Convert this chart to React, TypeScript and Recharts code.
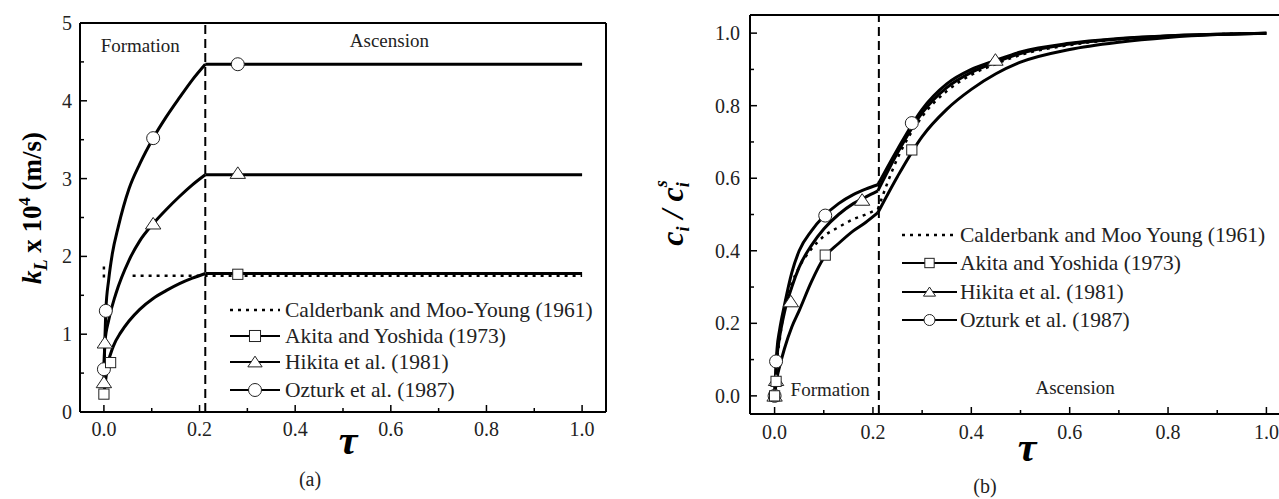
import React from 'react';
import { LineChart, Line, XAxis, YAxis, ReferenceLine, ReferenceDot, Legend } from 'recharts';

const FONT = '"Liberation Serif", "Times New Roman", serif';
const INK = '#000';

// ---- panel (a): k_L x 10^4 (m/s) against tau ----
const aTicksX = [0, 0.1, 0.2, 0.3, 0.4, 0.5, 0.6, 0.7, 0.8, 0.9, 1.0];
const aTicksY = [0, 0.5, 1, 1.5, 2, 2.5, 3, 3.5, 4, 4.5, 5];
const aSwitchTau = 0.212;

const aTauOzturk = [0, 0.004, 0.01, 0.0175, 0.03, 0.0525, 0.075, 0.103, 0.13, 0.158, 0.185, 0.212, 1.0];
const aKOzturk = [0.55, 1.3, 1.7, 2.03, 2.38, 2.87, 3.19, 3.52, 3.79, 4.04, 4.27, 4.47, 4.47];
const aTauHikita = [0, 0.002, 0.01, 0.025, 0.0525, 0.075, 0.103, 0.13, 0.158, 0.185, 0.212, 1.0];
const aKHikita = [0.38, 0.89, 1.18, 1.52, 1.95, 2.2, 2.42, 2.6, 2.77, 2.92, 3.05, 3.05];
const aTauAkita = [0, 0.008, 0.02, 0.035, 0.0525, 0.075, 0.103, 0.13, 0.158, 0.185, 0.212, 1.0];
const aKAkita = [0.23, 0.6, 0.85, 1.02, 1.17, 1.32, 1.46, 1.56, 1.65, 1.72, 1.78, 1.78];
const aTauCalder = [0, 0, 0.03, 0.06, 1.0];
const aKCalder = [1.87, 1.72, null, 1.75, 1.75];

const aMarkTauOzturk = [0, 0.004, 0.103, 0.28];
const aMarkKOzturk = [0.55, 1.3, 3.52, 4.47];
const aMarkTauHikita = [0, 0.002, 0.103, 0.28];
const aMarkKHikita = [0.38, 0.89, 2.42, 3.07];
const aMarkTauAkita = [0, 0.014, 0.28];
const aMarkKAkita = [0.23, 0.635, 1.77];

const aLegend = [
  'Calderbank and Moo-Young (1961)',
  'Akita and Yoshida (1973)',
  'Hikita et al. (1981)',
  'Ozturk et al. (1987)',
];

// ---- panel (b): c_i / c_i^s against tau ----
const bTicksX = [0, 0.1, 0.2, 0.3, 0.4, 0.5, 0.6, 0.7, 0.8, 0.9, 1.0];
const bTicksY = [0, 0.1, 0.2, 0.3, 0.4, 0.5, 0.6, 0.7, 0.8, 0.9, 1.0];
const bSwitchTau = 0.212;

const bTau = [0, 0.005, 0.01, 0.02, 0.035, 0.05, 0.075, 0.1, 0.13, 0.16, 0.185, 0.21, 0.25, 0.3, 0.35, 0.4, 0.45, 0.5, 0.6, 0.7, 0.8, 0.9, 1.0];
const bOzturk = [0, 0.13, 0.18, 0.25, 0.34, 0.4, 0.455, 0.495, 0.53, 0.555, 0.57, 0.582, 0.68, 0.79, 0.86, 0.9, 0.925, 0.948, 0.972, 0.985, 0.993, 0.997, 1.0];
const bHikita = [0, 0.11, 0.16, 0.23, 0.3, 0.355, 0.415, 0.46, 0.5, 0.53, 0.548, 0.565, 0.67, 0.78, 0.85, 0.892, 0.92, 0.944, 0.97, 0.984, 0.992, 0.997, 1.0];
const bCalder = [0, 0.1, 0.15, 0.245, 0.31, 0.355, 0.405, 0.44, 0.465, 0.487, 0.5, 0.515, 0.655, 0.77, 0.84, 0.885, 0.915, 0.94, 0.967, 0.983, 0.991, 0.997, 1.0];
const bAkita = [0, 0.05, 0.08, 0.13, 0.19, 0.235, 0.315, 0.38, 0.42, 0.455, 0.478, 0.505, 0.605, 0.715, 0.79, 0.845, 0.888, 0.92, 0.955, 0.975, 0.988, 0.996, 1.0];
const bCornerIndex = 11; // tau = 0.21, end of formation

const bMarkTauOzturk = [0, 0.003, 0.103, 0.279];
const bMarkOzturk = [0, 0.095, 0.497, 0.752];
const bMarkTauHikita = [0, 0.003, 0.033, 0.178, 0.449];
const bMarkHikita = [0, 0.043, 0.26, 0.54, 0.926];
const bMarkTauAkita = [0, 0.003, 0.103, 0.279];
const bMarkAkita = [0, 0.04, 0.388, 0.678];

const bLegend = [
  'Calderbank and Moo Young (1961)',
  'Akita and Yoshida (1973)',
  'Hikita et al. (1981)',
  'Ozturk et al. (1987)',
];

type Pt = { x: number; y: number | null };
const zip = (xs: number[], ys: (number | null)[]): Pt[] => xs.map((x, i) => ({ x, y: ys[i] }));

type Kind = 'circle' | 'square' | 'triangle';

const Glyph = ({ cx, cy, kind, size }: { cx: number; cy: number; kind: Kind; size: number }) => {
  const h = size / 2;
  const common = { fill: '#fff', stroke: '#222', strokeWidth: 1 };
  if (kind === 'circle') return <circle cx={cx} cy={cy} r={h} {...common} />;
  if (kind === 'square') return <rect x={cx - h * 0.85} y={cy - h * 0.85} width={h * 1.7} height={h * 1.7} {...common} />;
  return <polygon points={`${cx},${cy - h * 0.9} ${cx - h * 1.1},${cy + h * 0.75} ${cx + h * 1.1},${cy + h * 0.75}`} {...common} />;
};

const dotOf = (kind: Kind, size: number) => (p: any) => (
  <Glyph key={`${kind}-${p.index}`} cx={p.cx} cy={p.cy} kind={kind} size={size} />
);

const isMajorTenth = (v: number) => Math.round(v * 10) % 2 === 0;

const makeXTick = (side: 'bottom' | 'top', withLabel: boolean, labelDy: number) => (props: any) => {
  const { x, y, payload } = props;
  const v = payload.value as number;
  const major = isMajorTenth(v);
  const len = major ? 7 : 4;
  const dir = side === 'bottom' ? -1 : 1;
  return (
    <g>
      <line x1={x} y1={y} x2={x} y2={y + dir * len} stroke={INK} strokeWidth={1.5} />
      {withLabel && major && (
        <text x={x} y={y + labelDy} textAnchor="middle" fontSize={20} fill="#222" fontFamily={FONT}>
          {v.toFixed(1)}
        </text>
      )}
    </g>
  );
};

const makeYTick = (
  side: 'left' | 'right',
  withLabel: boolean,
  isMajor: (v: number) => boolean,
  fmt: (v: number) => string,
  labelDx: number,
) => (props: any) => {
  const { x, y, payload } = props;
  const v = payload.value as number;
  const major = isMajor(v);
  const len = major ? 7 : 4;
  const dir = side === 'left' ? 1 : -1;
  return (
    <g>
      <line x1={x} y1={y} x2={x + dir * len} y2={y} stroke={INK} strokeWidth={1.5} />
      {withLabel && major && (
        <text x={x - labelDx} y={y + 7} textAnchor="end" fontSize={20} fill="#222" fontFamily={FONT}>
          {fmt(v)}
        </text>
      )}
    </g>
  );
};

const annotate = (text: string) => (props: any) => {
  const vb = props.viewBox;
  const cx = vb.x + vb.width / 2;
  const cy = vb.y + vb.height / 2;
  return (
    <text x={cx} y={cy + 6} textAnchor="middle" fontSize={19} fill="#222" fontFamily={FONT}>
      {text}
    </text>
  );
};

interface LegendSpec {
  labels: string[];
  rowY: number[];
  sampleFrom: number;
  sampleTo: number;
  textX: number;
  fontSize: number;
  glyph: number;
}

const makeLegend = (spec: LegendSpec) => () => {
  const kinds: (Kind | null)[] = [null, 'square', 'triangle', 'circle'];
  const mid = (spec.sampleFrom + spec.sampleTo) / 2;
  return (
    <svg width={380} height={120} style={{ display: 'block', overflow: 'visible' }}>
      {spec.labels.map((label, i) => {
        const y = spec.rowY[i];
        const kind = kinds[i];
        return (
          <g key={label}>
            {kind === null ? (
              <line x1={spec.sampleFrom} y1={y} x2={spec.sampleTo} y2={y} stroke={INK} strokeWidth={2.5} strokeDasharray="3 5" />
            ) : (
              <g>
                <line x1={spec.sampleFrom} y1={y} x2={spec.sampleTo} y2={y} stroke={INK} strokeWidth={2} />
                <Glyph cx={mid} cy={y} kind={kind} size={spec.glyph} />
              </g>
            )}
            <text x={spec.textX} y={y + 7} fontSize={spec.fontSize} fill="#222" fontFamily={FONT}>
              {label}
            </text>
          </g>
        );
      })}
    </svg>
  );
};

const tauLabel = (cx: number, cy: number, tag: string, tagX: number, tagY: number) => () => (
  <g>
    <text x={cx} y={cy} textAnchor="middle" fontSize={42} fontWeight="bold" fontStyle="italic" fill={INK} fontFamily={FONT}>
      τ
    </text>
    <text x={tagX} y={tagY} textAnchor="middle" fontSize={20} fill="#222" fontFamily={FONT}>
      {tag}
    </text>
  </g>
);

const kLabel = () => (
  <text transform="translate(41,208) rotate(-90)" textAnchor="middle" fontSize={27} fontWeight="bold" fill={INK} fontFamily={FONT}>
    <tspan fontStyle="italic">k</tspan>
    <tspan fontStyle="italic" fontSize={18} dy={6}>L</tspan>
    <tspan dy={-6}> x 10</tspan>
    <tspan fontSize={17} dy={-11}>4</tspan>
    <tspan dy={11}> (m/s)</tspan>
  </text>
);

const cLabel = () => (
  <text transform="translate(43,213) rotate(-90)" textAnchor="middle" fontSize={32} fontWeight="bold" fontStyle="italic" fill={INK} fontFamily={FONT}>
    <tspan>c</tspan>
    <tspan fontSize={18} dy={6}>i</tspan>
    <tspan dy={-6}> / c</tspan>
    <tspan fontSize={18} dy={6}>i</tspan>
    <tspan fontSize={18} dx={-5} dy={-22}>s</tspan>
  </text>
);

const curve = (key: string, data: Pt[], kind: 'smooth' | 'straight' | 'dotted' | 'dotted-smooth') => {
  const dotted = kind === 'dotted' || kind === 'dotted-smooth';
  return (
    <Line
      key={key}
      data={data}
      dataKey="y"
      type={kind === 'smooth' || kind === 'dotted-smooth' ? 'monotone' : 'linear'}
      stroke={INK}
      strokeWidth={dotted ? 2.5 : 3}
      strokeDasharray={dotted ? '3 5' : undefined}
      dot={false}
      activeDot={false}
      isAnimationActive={false}
      connectNulls={false}
    />
  );
};

// rising part drawn smooth, plateau straight, so the corner at the end of formation stays sharp
const riseAndPlateau = (key: string, pts: Pt[]) => [
  curve(`${key}-rise`, pts.slice(0, -1), 'smooth'),
  curve(`${key}-flat`, pts.slice(-2), 'straight'),
];

const twoStages = (key: string, pts: Pt[], dotted = false) => [
  curve(`${key}-form`, pts.slice(0, bCornerIndex + 1), dotted ? 'dotted-smooth' : 'smooth'),
  curve(`${key}-asc`, pts.slice(bCornerIndex), dotted ? 'dotted-smooth' : 'smooth'),
];

const markers = (key: string, data: Pt[], kind: Kind, size: number) => (
  <Line
    key={key}
    data={data}
    dataKey="y"
    stroke="none"
    strokeWidth={0}
    dot={dotOf(kind, size)}
    activeDot={false}
    isAnimationActive={false}
  />
);

// axes get a 1px box (a 0px box is not drawn), margins take that pixel back
const PanelA = () => (
  <LineChart width={640} height={499} margin={{ top: 22, right: 33, bottom: 86, left: 79 }}>
    <XAxis
      xAxisId={0}
      type="number"
      dataKey="x"
      domain={[-0.05, 1.05]}
      ticks={aTicksX}
      interval={0}
      allowDataOverflow
      height={1}
      tickSize={0}
      tickMargin={0}
      tick={makeXTick('bottom', true, 24)}
      axisLine={{ stroke: INK, strokeWidth: 2 }}
      label={{ content: tauLabel(348, 454, '(a)', 310, 486) }}
    />
    <XAxis xAxisId="top" orientation="top" type="number" domain={[-0.05, 1.05]} ticks={aTicksX} interval={0} height={1} tickSize={0} tickMargin={0} tick={makeXTick('top', false, 0)} axisLine={{ stroke: INK, strokeWidth: 2 }} />
    <YAxis
      yAxisId={0}
      type="number"
      domain={[0, 5]}
      ticks={aTicksY}
      interval={0}
      allowDataOverflow
      width={1}
      tickSize={0}
      tickMargin={0}
      tick={makeYTick('left', true, (v) => Number.isInteger(v), (v) => String(v), 8)}
      axisLine={{ stroke: INK, strokeWidth: 2 }}
      label={{ content: kLabel }}
    />
    <YAxis yAxisId="right" orientation="right" type="number" domain={[0, 5]} ticks={aTicksY} interval={0} width={1} tickSize={0} tickMargin={0} tick={makeYTick('right', false, (v) => Number.isInteger(v), String, 0)} axisLine={{ stroke: INK, strokeWidth: 2 }} />
    <ReferenceLine x={aSwitchTau} stroke={INK} strokeWidth={2} strokeDasharray="9 5" />
    <ReferenceDot x={0.076} y={4.7} r={1} fill="none" stroke="none" label={{ content: annotate('Formation') }} />
    <ReferenceDot x={0.597} y={4.77} r={1} fill="none" stroke="none" label={{ content: annotate('Ascension') }} />
    {curve('a-cal', zip(aTauCalder, aKCalder), 'dotted')}
    {riseAndPlateau('a-oz', zip(aTauOzturk, aKOzturk))}
    {riseAndPlateau('a-hi', zip(aTauHikita, aKHikita))}
    {riseAndPlateau('a-ak', zip(aTauAkita, aKAkita))}
    {markers('a-m-oz', zip(aMarkTauOzturk, aMarkKOzturk), 'circle', 13)}
    {markers('a-m-hi', zip(aMarkTauHikita, aMarkKHikita), 'triangle', 14)}
    {markers('a-m-ak', zip(aMarkTauAkita, aMarkKAkita), 'square', 12)}
    <Legend
      layout="vertical"
      align="center"
      verticalAlign="middle"
      content={makeLegend({ labels: aLegend, rowY: [14, 40, 66, 94], sampleFrom: 2, sampleTo: 52, textX: 57, fontSize: 21.5, glyph: 13 })}
      wrapperStyle={{ left: 228, top: 296, width: 380, height: 120 }}
    />
  </LineChart>
);

const PanelB = () => (
  <LineChart width={660} height={499} margin={{ top: 14, right: 8, bottom: 84, left: 109 }}>
    <XAxis
      xAxisId={0}
      type="number"
      dataKey="x"
      domain={[-0.05, 1.05]}
      ticks={bTicksX}
      interval={0}
      allowDataOverflow
      height={1}
      tickSize={0}
      tickMargin={0}
      tick={makeXTick('bottom', true, 25)}
      axisLine={{ stroke: INK, strokeWidth: 2 }}
      label={{ content: tauLabel(387, 461, '(b)', 345, 493) }}
    />
    <XAxis xAxisId="top" orientation="top" type="number" domain={[-0.05, 1.05]} ticks={bTicksX} interval={0} height={1} tickSize={0} tickMargin={0} tick={makeXTick('top', false, 0)} axisLine={{ stroke: INK, strokeWidth: 2 }} />
    <YAxis
      yAxisId={0}
      type="number"
      domain={[-0.05, 1.05]}
      ticks={bTicksY}
      interval={0}
      allowDataOverflow
      width={1}
      tickSize={0}
      tickMargin={0}
      tick={makeYTick('left', true, isMajorTenth, (v) => v.toFixed(1), 10)}
      axisLine={{ stroke: INK, strokeWidth: 2 }}
      label={{ content: cLabel }}
    />
    <YAxis yAxisId="right" orientation="right" type="number" domain={[-0.05, 1.05]} ticks={bTicksY} interval={0} width={1} tickSize={0} tickMargin={0} tick={makeYTick('right', false, isMajorTenth, String, 0)} axisLine={{ stroke: INK, strokeWidth: 2 }} />
    <ReferenceLine x={bSwitchTau} stroke={INK} strokeWidth={2} strokeDasharray="9 5" />
    <ReferenceDot x={0.113} y={0.016} r={1} fill="none" stroke="none" label={{ content: annotate('Formation') }} />
    <ReferenceDot x={0.611} y={0.021} r={1} fill="none" stroke="none" label={{ content: annotate('Ascension') }} />
    {twoStages('b-cal', zip(bTau, bCalder), true)}
    {twoStages('b-oz', zip(bTau, bOzturk))}
    {twoStages('b-hi', zip(bTau, bHikita))}
    {twoStages('b-ak', zip(bTau, bAkita))}
    {markers('b-m-oz', zip(bMarkTauOzturk, bMarkOzturk), 'circle', 13)}
    {markers('b-m-hi', zip(bMarkTauHikita, bMarkHikita), 'triangle', 14)}
    {markers('b-m-ak', zip(bMarkTauAkita, bMarkAkita), 'square', 12)}
    <Legend
      layout="vertical"
      align="center"
      verticalAlign="middle"
      content={makeLegend({ labels: bLegend, rowY: [14, 42, 71, 99], sampleFrom: 2, sampleTo: 57, textX: 60, fontSize: 21.5, glyph: 11 })}
      wrapperStyle={{ left: 260, top: 221, width: 380, height: 120 }}
    />
  </LineChart>
);

export default function App() {
  return (
    <div style={{ position: 'fixed', left: 0, top: 0, width: 1279, height: 499, overflow: 'hidden', background: '#fff' }}>
      <div style={{ position: 'absolute', left: 0, top: 0 }}>
        <PanelA />
      </div>
      <div style={{ position: 'absolute', left: 640, top: 0 }}>
        <PanelB />
      </div>
    </div>
  );
}
